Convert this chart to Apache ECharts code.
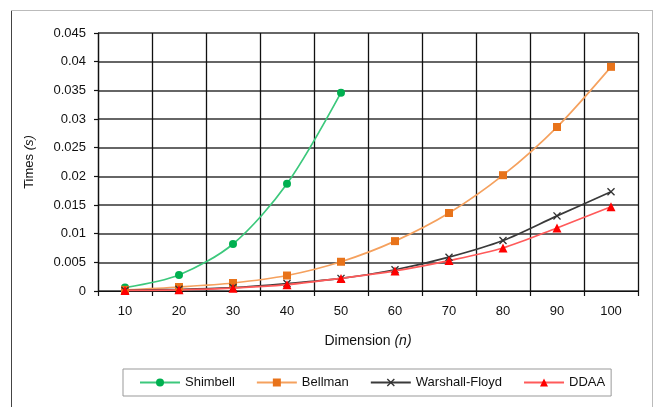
<!DOCTYPE html>
<html><head><meta charset="utf-8">
<script src="https://cdn.jsdelivr.net/npm/echarts@6/dist/echarts.min.js"></script>
<style>html,body{margin:0;padding:0;background:#fff}#c{width:657px;height:407px}</style>
</head><body><div id="c"></div>
<script>
const categories = ['10','20','30','40','50','60','70','80','90','100'];
const shimbell = [0.0006, 0.0028, 0.0082, 0.0187, 0.0346, null, null, null, null, null];
const bellman = [0.0002, 0.0007, 0.0014, 0.0027, 0.0051, 0.0087, 0.0136, 0.0202, 0.0286, 0.0391];
const warshall = [0.0001, 0.0003, 0.0006, 0.0013, 0.0022, 0.0037, 0.0059, 0.0088, 0.0131, 0.0173];
const ddaa = [0.0001, 0.0002, 0.0005, 0.0011, 0.0022, 0.0035, 0.0053, 0.0075, 0.0110, 0.0147];
const yMin = 0, yMax = 0.045, yInterval = 0.005;

const font = 'Liberation Sans, Arial, sans-serif';
const xSym = 'path://M0,1.2L1.2,0L5,3.8L8.8,0L10,1.2L6.2,5L10,8.8L8.8,10L5,6.2L1.2,10L0,8.8L3.8,5Z';

const chart = echarts.init(document.getElementById('c'), null, {renderer:'canvas'});
chart.setOption({
  animation: false,
  backgroundColor: '#fff',
  textStyle: {fontFamily: font},
  graphic: [
    {type:'line', shape:{x1:11.5,y1:10,x2:11.5,y2:407}, style:{stroke:'#444',lineWidth:1}},
    {type:'line', shape:{x1:11,y1:10.5,x2:653,y2:10.5}, style:{stroke:'#bbb',lineWidth:1}},
    {type:'line', shape:{x1:652.5,y1:10,x2:652.5,y2:407}, style:{stroke:'#bbb',lineWidth:1}}
  ],
  grid: {left: 98, right: 19, top: 33, bottom: 116},
  legend: {
    left: 123, top: 369,
    padding: [7, 6, 7, 16],
    borderColor: '#999', borderWidth: 1,
    itemWidth: 40, itemHeight: 10, itemGap: 21,
    textStyle: {fontSize: 13, color: '#111', fontFamily: font},
    data: ['Shimbell','Bellman','Warshall-Floyd','DDAA']
  },
  xAxis: {
    type: 'category', data: categories, boundaryGap: true,
    name: 'Dimension {i|(n)}', nameLocation: 'middle', nameGap: 43,
    nameTextStyle: {fontSize: 14, color: '#111', fontFamily: font, rich:{i:{fontStyle:'italic', fontSize:14, color:'#111'}}},
    axisLine: {lineStyle: {color: '#111', width: 1.2}},
    axisTick: {show: true, length: 5, lineStyle: {color: '#111', width: 1.2}},
    axisLabel: {fontSize: 13, color: '#111', margin: 14},
    splitLine: {show: true, lineStyle: {color: '#111', width: 1.3}}
  },
  yAxis: {
    type: 'value', min: yMin, max: yMax, interval: yInterval,
    name: 'Times {i|(s)}', nameLocation: 'middle', nameGap: 62,
    nameTextStyle: {fontSize: 13, color: '#111', fontFamily: font, rich:{i:{fontStyle:'italic', fontSize:13, color:'#111'}}},
    axisLine: {show: true, lineStyle: {color: '#111', width: 1.2}},
    axisTick: {show: true, length: 4, lineStyle: {color: '#111', width: 1.2}},
    axisLabel: {fontSize: 13, color: '#111', margin: 12},
    splitLine: {show: true, lineStyle: {color: '#333', width: 1.7}}
  },
  series: [
    {name:'Shimbell', type:'line', data: shimbell, smooth: 0.3, connectNulls:false,
     symbol:'circle', symbolSize: 8,
     lineStyle:{color:'#3cc87c', width:1.7}, itemStyle:{color:'#00b050'}},
    {name:'Bellman', type:'line', data: bellman, smooth: 0.3,
     symbol:'rect', symbolSize: 8,
     lineStyle:{color:'#f5a15e', width:1.7}, itemStyle:{color:'#e8731a'}},
    {name:'Warshall-Floyd', type:'line', data: warshall, smooth: 0.3,
     symbol: xSym, symbolSize: 8,
     lineStyle:{color:'#3a3a3a', width:1.7}, itemStyle:{color:'#333'}},
    {name:'DDAA', type:'line', data: ddaa, smooth: 0.3,
     symbol:'triangle', symbolSize: 9,
     lineStyle:{color:'#ff5a5a', width:1.7}, itemStyle:{color:'#ff0000'}}
  ]
});
</script></body></html>
